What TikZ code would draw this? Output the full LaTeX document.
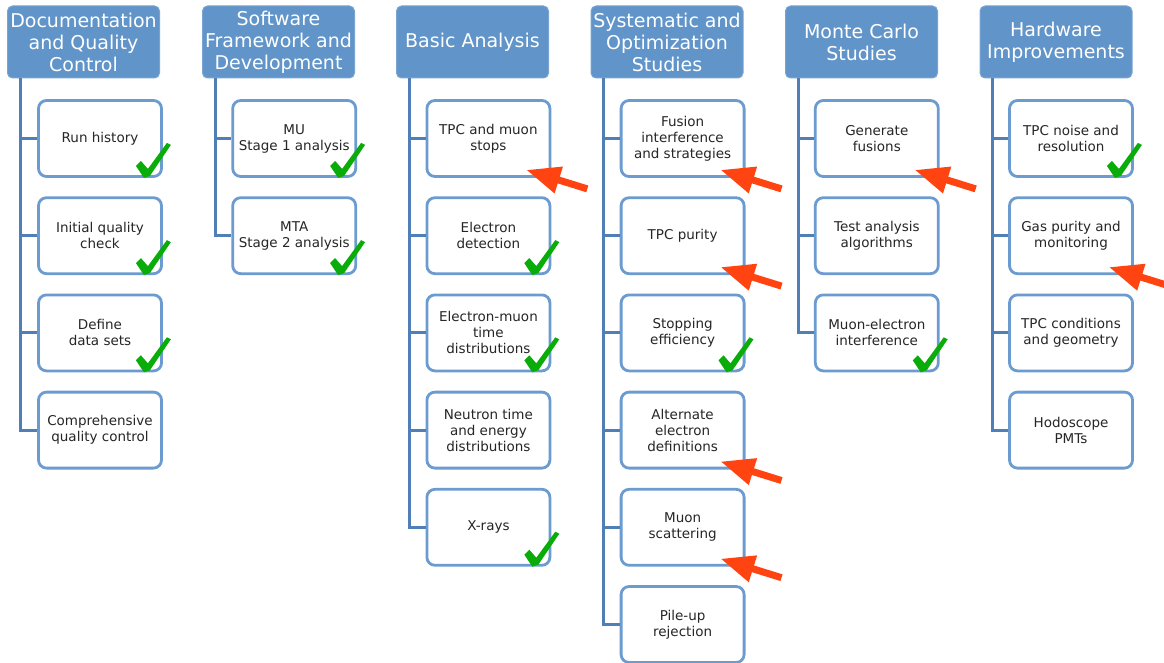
\documentclass[tikz,border=0pt]{standalone}
\usepackage{fontspec}
\setmainfont{DejaVu Sans}
\usetikzlibrary{arrows.meta}
\definecolor{hdr}{RGB}{97,148,201}
\definecolor{trunkc}{RGB}{79,127,182}
\definecolor{boxc}{RGB}{108,155,208}
\definecolor{chkc}{RGB}{10,172,10}
\definecolor{arrc}{RGB}{255,68,17}
\tikzset{
 header/.style={fill=hdr, draw=hdr!85!white, line width=1pt, rounded corners=5pt,
   minimum width=152pt, minimum height=72pt, text=white, align=center,
   font=\fontsize{19}{22}\selectfont, inner sep=0pt, anchor=north west},
 item/.style={draw=boxc, line width=2.8pt, fill=white, rounded corners=8pt,
   minimum width=123pt, minimum height=76pt, align=center,
   font=\fontsize{13.5}{16}\selectfont, inner sep=0pt, text=black!85},
 trunk/.style={draw=trunkc, line width=3pt},
 redarrow/.style={arrc, line width=7pt, -{Triangle[length=34pt,width=26pt]}},
 pics/tick/.style={code={\fill[chkc] (-27,12) -- (-22,17) -- (-15,9) -- (4,35) -- (8,33) -- (-13,2) -- (-19,0) -- cycle;}}
}
\newcommand\redarr[1]{\draw[redarrow] ([shift={(36,-11)}]#1.south east) -- ([shift={(-25,8)}]#1.south east);}
\begin{document}
\begin{tikzpicture}[x=1pt,y=1pt]
\useasboundingbox (0,0) rectangle (1164,-663);
% headers
\node[header] (h1) at (7,-5.5) {Documentation\\and Quality\\Control};
\node[header] (h2) at (202,-5.5) {Software\\Framework and\\Development};
\node[header] (h3) at (396,-5.5) {Basic Analysis};
\node[header] (h4) at (590.5,-5.5) {Systematic and\\Optimization\\Studies};
\node[header] (h5) at (785,-5.5) {Monte Carlo\\Studies};
\node[header] (h6) at (979.5,-5.5) {Hardware\\Improvements};
% column 1
\node[item] (c1a) at (100,-138.5) {Run history};
\node[item] (c1b) at (100,-235.7) {Initial quality\\check};
\node[item] (c1c) at (100,-332.9) {Define\\data sets};
\node[item] (c1d) at (100,-430.1) {Comprehensive\\quality control};
% column 2
\node[item] (c2a) at (294.2,-138.5) {MU\\Stage 1 analysis};
\node[item] (c2b) at (294.2,-235.7) {MTA\\Stage 2 analysis};
% column 3
\node[item] (c3a) at (488.4,-138.5) {TPC and muon\\stops};
\node[item] (c3b) at (488.4,-235.7) {Electron\\detection};
\node[item] (c3c) at (488.4,-332.9) {Electron-muon\\time\\distributions};
\node[item] (c3d) at (488.4,-430.1) {Neutron time\\and energy\\distributions};
\node[item] (c3e) at (488.4,-527.3) {X-rays};
% column 4
\node[item] (c4a) at (682.6,-138.5) {Fusion\\interference\\and strategies};
\node[item] (c4b) at (682.6,-235.7) {TPC purity};
\node[item] (c4c) at (682.6,-332.9) {Stopping\\efficiency};
\node[item] (c4d) at (682.6,-430.1) {Alternate\\electron\\definitions};
\node[item] (c4e) at (682.6,-527.3) {Muon\\scattering};
\node[item] (c4f) at (682.6,-624.5) {Pile-up\\rejection};
% column 5
\node[item] (c5a) at (876.8,-138.5) {Generate\\fusions};
\node[item] (c5b) at (876.8,-235.7) {Test analysis\\algorithms};
\node[item] (c5c) at (876.8,-332.9) {Muon-electron\\interference};
% column 6
\node[item] (c6a) at (1071,-138.5) {TPC noise and\\resolution};
\node[item] (c6b) at (1071,-235.7) {Gas purity and\\monitoring};
\node[item] (c6c) at (1071,-332.9) {TPC conditions\\and geometry};
\node[item] (c6d) at (1071,-430.1) {Hodoscope\\PMTs};
% trunks
\foreach \h/\list in {h1/{c1a,c1b,c1c,c1d}, h2/{c2a,c2b}, h3/{c3a,c3b,c3c,c3d,c3e},
  h4/{c4a,c4b,c4c,c4d,c4e,c4f}, h5/{c5a,c5b,c5c}, h6/{c6a,c6b,c6c,c6d}}{
  \foreach \c in \list {\draw[trunk] ([xshift=13pt]\h.south west) |- (\c.west);}
}
% ticks
\foreach \c in {c1a,c1b,c1c,c2a,c2b,c3b,c3c,c3e,c4c,c5c,c6a}{\pic at (\c.south east) {tick};}
% arrows
\redarr{c3a}
\redarr{c4a}
\redarr{c4b}
\redarr{c4d}
\redarr{c4e}
\redarr{c5a}
\redarr{c6b}
\end{tikzpicture}
\end{document}
